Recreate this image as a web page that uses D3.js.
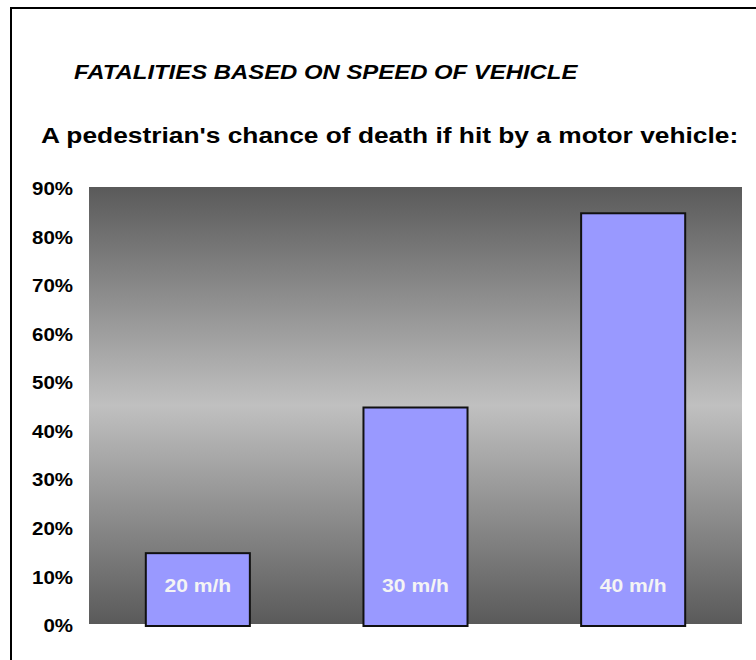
<!DOCTYPE html>
<html>
<head>
<meta charset="utf-8">
<script src="https://cdn.jsdelivr.net/npm/d3@7/dist/d3.min.js"></script>
<style>
  html, body { margin: 0; padding: 0; background: #fff; }
  svg { display: block; }
  text { font-family: "Liberation Sans", Arial, sans-serif; }
</style>
</head>
<body>
<svg id="chart" width="756" height="660"></svg>
<script>
const categories = ["20 m/h", "30 m/h", "40 m/h"];
const values = [15, 45, 85];
const tickValues = [0, 10, 20, 30, 40, 50, 60, 70, 80, 90];
const title = "FATALITIES BASED ON SPEED OF VEHICLE";
const subtitle = "A pedestrian's chance of death if hit by a motor vehicle:";

const svg = d3.select("#chart");

// horizontally widen glyphs (reference text is wider than the font's natural width)
function stretch(sel, factor) {
  sel.each(function () {
    const w = this.getComputedTextLength();
    d3.select(this).attr("textLength", w * factor).attr("lengthAdjust", "spacingAndGlyphs");
  });
}

// outer frame (extends beyond right/bottom edges)
svg.append("rect")
  .attr("x", 11).attr("y", 8)
  .attr("width", 800).attr("height", 700)
  .attr("fill", "none").attr("stroke", "#000").attr("stroke-width", 2);

svg.append("text")
  .attr("x", 74).attr("y", 79)
  .attr("font-size", 20.5).attr("font-weight", "bold").attr("font-style", "italic")
  .attr("fill", "#000")
  .text(title)
  .call(stretch, 1.165);

svg.append("text")
  .attr("x", 41).attr("y", 143)
  .attr("font-size", 22.5).attr("font-weight", "bold")
  .attr("fill", "#000")
  .text(subtitle)
  .call(stretch, 1.17);

const plotLeft = 89, plotRight = 742, plotTop = 187, plotBottom = 624;

const x = d3.scaleBand()
  .domain(categories)
  .range([plotLeft, plotRight])
  .paddingInner(0.522)
  .paddingOuter(0.261);

const y = d3.scaleLinear()
  .domain([0, 90])
  .range([626, 189]);

const defs = svg.append("defs");
const grad = defs.append("linearGradient")
  .attr("id", "bg").attr("x1", 0).attr("y1", 0).attr("x2", 0).attr("y2", 1);
grad.append("stop").attr("offset", "0%").attr("stop-color", "#5a5a5a");
grad.append("stop").attr("offset", "50%").attr("stop-color", "#c0c0c0");
grad.append("stop").attr("offset", "100%").attr("stop-color", "#5a5a5a");

svg.append("rect")
  .attr("x", plotLeft).attr("y", plotTop)
  .attr("width", plotRight - plotLeft).attr("height", plotBottom - plotTop)
  .attr("fill", "url(#bg)");

// y axis labels
const yAxis = d3.axisLeft(y)
  .tickValues(tickValues)
  .tickFormat(d => d + "%")
  .tickSize(0)
  .tickPadding(0);
const gy = svg.append("g")
  .attr("transform", "translate(73,0)")
  .call(yAxis);
gy.select(".domain").remove();
gy.selectAll("text")
  .attr("font-family", "'Liberation Sans', Arial, sans-serif")
  .attr("font-size", 17.5).attr("font-weight", "bold").attr("fill", "#000")
  .call(stretch, 1.17);

// bars
svg.append("g").selectAll("rect")
  .data(values)
  .join("rect")
  .attr("x", (d, i) => x(categories[i]))
  .attr("y", d => y(d))
  .attr("width", x.bandwidth())
  .attr("height", d => y(0) - y(d))
  .attr("fill", "#9999ff")
  .attr("stroke", "#111")
  .attr("stroke-width", 2);

// category labels inside bars
svg.append("g").selectAll("text")
  .data(categories)
  .join("text")
  .attr("x", d => x(d) + x.bandwidth() / 2)
  .attr("y", 592)
  .attr("text-anchor", "middle")
  .attr("font-size", 19).attr("font-weight", "bold")
  .attr("fill", "#f4f4f4")
  .text(d => d)
  .call(stretch, 1.11);
</script>
</body>
</html>
